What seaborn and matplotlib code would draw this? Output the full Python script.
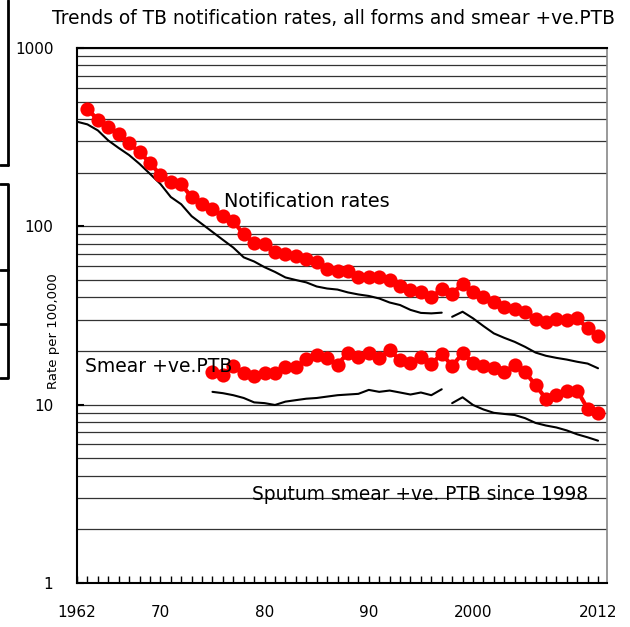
import numpy as np
import pandas as pd
import seaborn as sns
import matplotlib.pyplot as plt
from matplotlib.ticker import LogLocator, NullFormatter, FixedLocator

# all forms notification rate (red dots), 1963-2012
notif_years = list(range(1963, 2013))
notif_rate = [455, 396, 362, 330, 293, 260, 227, 194, 177, 172,
              146, 134, 125, 114, 107, 90, 81, 80, 72, 70,
              68, 66, 63, 58, 56, 56, 52, 52, 52, 50,
              46, 44, 43, 40, 44.5, 42, 47.5, 43, 40, 37.5,
              35.4, 34.3, 33.2, 30.1, 29.2, 30.1, 29.8, 30.5, 26.8, 24.4]

# all forms, black line (two pieces, break at 1997/98)
all_years_a = list(range(1962, 1998))
all_rate_a = [386, 373, 345, 303, 275, 251, 224, 197, 173, 146,
              133, 114, 103, 93, 84, 76, 67, 63.5, 59, 55.5,
              51.7, 50, 48.5, 46, 44.8, 44.2, 42.6, 41.5, 40.7, 39.4,
              37.4, 36.2, 34, 32.7, 32.5, 32.8]
all_years_b = list(range(1998, 2013))
all_rate_b = [31.1, 33.2, 30.5, 27.6, 25.1, 23.7, 22.5, 21.1, 19.6, 18.8,
              18.3, 17.9, 17.4, 17.0, 16.0]

# smear +ve PTB (red dots), 1975-2012
smear_years = list(range(1975, 2013))
smear_rate = [15.3, 14.7, 16.5, 15.0, 14.5, 15.0, 15.1, 16.3, 16.2, 18.0,
              19.0, 18.2, 16.7, 19.6, 18.4, 19.6, 18.2, 20.3, 17.7, 17.1,
              18.4, 16.9, 19.3, 16.5, 19.4, 17.2, 16.5, 16.0, 15.2, 16.7,
              15.2, 12.9, 10.8, 11.3, 12.0, 12.0, 9.5, 8.95]

# smear +ve, black line
sm_years_a = list(range(1975, 1998))
sm_rate_a = [11.8, 11.6, 11.3, 10.9, 10.3, 10.2, 9.96, 10.4, 10.6, 10.8,
             10.9, 11.1, 11.3, 11.4, 11.5, 12.1, 11.8, 12.0, 11.7, 11.4,
             11.7, 11.3, 12.2]
sm_years_b = list(range(1998, 2013))
sm_rate_b = [10.2, 11.0, 9.96, 9.4, 9.0, 8.87, 8.75, 8.4, 7.9, 7.64,
             7.45, 7.17, 6.82, 6.56, 6.28]

tick_years = [1962, 1970, 1980, 1990, 2000, 2012]
tick_names = ["1962", "70", "80", "90", "2000", "2012"]

black_df = pd.concat([
    pd.DataFrame({"year": all_years_a, "rate": all_rate_a, "seg": "all_a"}),
    pd.DataFrame({"year": all_years_b, "rate": all_rate_b, "seg": "all_b"}),
    pd.DataFrame({"year": sm_years_a, "rate": sm_rate_a, "seg": "sm_a"}),
    pd.DataFrame({"year": sm_years_b, "rate": sm_rate_b, "seg": "sm_b"}),
])
red_df = pd.concat([
    pd.DataFrame({"year": notif_years, "rate": notif_rate, "seg": "notif"}),
    pd.DataFrame({"year": smear_years, "rate": smear_rate, "seg": "smear"}),
])

sns.set_style("white")
plt.rcParams['font.family'] = ['DejaVu Sans']
plt.rcParams['text.color'] = 'black'
plt.rcParams['axes.labelcolor'] = 'black'
plt.rcParams['xtick.color'] = 'black'
plt.rcParams['ytick.color'] = 'black'

fig = plt.figure(figsize=(6.3, 6.27), dpi=100)
ax = fig.add_axes([77 / 630, 44 / 627, 530 / 630, 535 / 627])

sns.lineplot(data=black_df, x="year", y="rate", units="seg", estimator=None,
             color="black", linewidth=1.5, ax=ax, legend=False)
sns.lineplot(data=red_df, x="year", y="rate", units="seg", estimator=None,
             color="red", linewidth=3, marker="o", markersize=10.2,
             markeredgewidth=0, ax=ax, legend=False)

ax.set_yscale("log")
ax.set_ylim(1, 1000)
ax.set_xlim(1962, 2012.86)

# y axis: labels at decades, grid at every log step
ax.yaxis.set_major_locator(FixedLocator([1, 10, 100, 1000]))
ax.set_yticklabels(["1", "10", "100", "1000"])
ax.yaxis.set_minor_locator(LogLocator(base=10, subs=np.arange(2, 10)))
ax.yaxis.set_minor_formatter(NullFormatter())
ax.grid(axis="y", which="both", color="#333333", linewidth=0.9)
ax.set_axisbelow(True)
ax.tick_params(axis="y", which="major", direction="in", length=5, width=1.5,
               pad=17, labelsize=11, left=True)
ax.tick_params(axis="y", which="minor", length=0)

# x axis: tick every year, label a few
ax.set_xticks(list(range(1962, 2013)))
ax.set_xticklabels([tick_names[tick_years.index(y)] if y in tick_years else ""
                    for y in range(1962, 2013)])
ax.tick_params(axis="x", direction="in", length=5, width=1, pad=16,
               labelsize=11, bottom=True)

ax.set_xlabel("")
ax.set_ylabel("Rate per 100,000", fontsize=9.5)
ax.yaxis.set_label_coords(-0.032, 0.47)

for side in ["left", "bottom", "top"]:
    ax.spines[side].set_color("black")
    ax.spines[side].set_linewidth(1.5)
ax.spines["right"].set_color("#888888")
ax.spines["right"].set_linewidth(1.2)

ax.text(0.277, 0.714, "Notification rates", transform=ax.transAxes,
        fontsize=13.9, va="center", ha="left")
ax.text(0.015, 0.404, "Smear +ve.PTB", transform=ax.transAxes,
        fontsize=13.5, va="center", ha="left")
ax.text(0.330, 0.166, "Sputum smear +ve. PTB since 1998", transform=ax.transAxes,
        fontsize=13.4, va="center", ha="left")

fig.text(333 / 630, 1 - 18 / 627,
         "Trends of TB notification rates, all forms and smear +ve.PTB",
         fontsize=13.4, ha="center", va="center")

# cut-off boxes from a neighbouring figure on the left edge
def fig_line(xs, ys):
    fig.add_artist(plt.Line2D([x / 630 for x in xs], [1 - y / 627 for y in ys],
                              color="black", linewidth=2, transform=fig.transFigure))

fig_line([8, 8], [0, 165])
fig_line([0, 8], [165, 165])
fig_line([0, 8, 8, 0], [184, 184, 378, 378])
fig_line([0, 8], [270, 270])
fig_line([0, 8], [324, 324])

fig.savefig("out.png", dpi=100)
plt.close(fig)
